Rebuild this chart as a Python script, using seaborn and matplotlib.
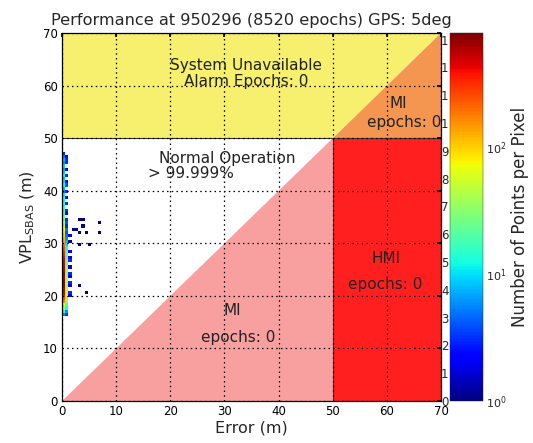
import matplotlib
matplotlib.use("Agg")
import matplotlib.pyplot as plt
from matplotlib.colors import LogNorm
from matplotlib.patches import Polygon
import numpy as np
import pandas as pd
import seaborn as sns

sns.set_theme(style="white")
plt.rcParams["font.family"] = ["DejaVu Sans"]
plt.rcParams["mathtext.fontset"] = "dejavusans"

# ---- 2-D histogram data: error bin centre (m), VPL bin centre (m), points per pixel ----
col0_vpl = [16.5, 17.1, 17.7, 18.3, 18.9, 19.5, 20.1, 20.7, 21.3, 21.9, 22.5, 23.1,
            23.7, 24.3, 24.9, 25.5, 26.1, 26.7, 27.3, 27.9, 28.5, 29.1, 29.7, 30.3,
            30.9, 31.5, 32.1, 32.7, 33.3, 33.9, 34.5, 35.1, 35.7, 36.3, 36.9, 37.5,
            38.1, 38.7, 39.3, 39.9, 40.5, 41.1, 41.7, 42.3, 42.9, 43.5, 44.1, 44.7,
            45.3, 45.9, 46.5, 47.1]
col0_counts = [6, 15, 40, 80, 160, 260, 380, 450, 520, 600, 650, 620,
               580, 640, 560, 500, 470, 430, 400, 350, 300, 240, 180, 140,
               120, 100, 90, 70, 50, 40, 30, 25, 20, 18, 16, 14,
               12, 14, 10, 5, 8, 12, 10, 8, 12, 9, 7, 9,
               6, 8, 5, 3]

col1_vpl = [16.5, 17.1, 17.7, 18.3, 18.9, 19.5, 20.1, 20.7, 21.3, 21.9, 22.5, 23.1,
            23.7, 24.3, 24.9, 25.5, 26.1, 26.7, 27.3, 27.9, 28.5, 29.1, 29.7, 30.3,
            30.9, 31.5, 32.1, 32.7, 33.3, 33.9, 34.5, 35.7, 36.3, 37.5, 38.7, 39.9,
            41.1, 41.7, 42.9, 44.1, 45.3, 45.9, 46.5]
col1_counts = [3, 6, 12, 20, 30, 45, 60, 55, 50, 40, 45, 35,
               40, 35, 30, 35, 25, 28, 20, 22, 16, 12, 10, 8,
               6, 5, 4, 5, 3, 4, 3, 2, 3, 3, 2, 3,
               4, 2, 3, 2, 3, 3, 2]

col2_vpl = [20.1, 20.7, 21.9, 22.5, 23.7, 24.3, 25.5, 26.7, 27.3, 28.5, 30.3, 31.5]
col2_counts = [2, 3, 2, 3, 2, 3, 2, 3, 2, 2, 1, 2]

tail_err = [3.3, 3.9, 6.9, 3.9, 2.1, 2.7, 3.3, 4.5, 6.9, 3.3, 5.1, 3.3, 4.5]
tail_vpl = [34.5, 34.5, 33.9, 33.3, 32.7, 32.7, 32.1, 32.1, 32.1, 29.7, 29.7, 21.9, 20.7]
tail_counts = [1, 1, 1, 1, 1, 1, 1, 1, 1, 1, 1, 1, 1]

# ---- axis / colorbar ticks and annotations ----
axis_ticks = [0, 10, 20, 30, 40, 50, 60, 70]
cbar_ticks = [1, 10, 100]
cbar_lin_labels = ["0", "1", "2", "3", "4", "5", "6", "7", "8", "9", "1", "1", "1", "1"]
alert_limit = 50
axis_max = 70

df = pd.DataFrame({
    "err": ([0.3] * len(col0_vpl) + [0.9] * len(col1_vpl) + [1.5] * len(col2_vpl)
            + tail_err),
    "vpl": col0_vpl + col1_vpl + col2_vpl + tail_vpl,
    "count": col0_counts + col1_counts + col2_counts + tail_counts,
})

jet = matplotlib.colormaps["jet"]

W, H = 533, 443
fig = plt.figure(figsize=(W / 100, H / 100), dpi=100)
fig.patch.set_facecolor("white")
ax = fig.add_axes([62 / W, 1 - 401 / H, 379 / W, 368 / H])
cax = fig.add_axes([450 / W, 1 - 401 / H, 33 / W, 368 / H], zorder=5)

# Region shading of the integrity diagram
yellow, orange, red, pink = "#F7F06E", "#F59650", "#FF1F1F", "#F8A0A0"
A, M = alert_limit, axis_max
ax.add_patch(Polygon([(0, A), (A, A), (M, M), (0, M)], fc=yellow, ec="none", zorder=1))
ax.add_patch(Polygon([(A, A), (M, A), (M, M)], fc=orange, ec="none", zorder=1))
ax.add_patch(Polygon([(A, 0), (M, 0), (M, A), (A, A)], fc=red, ec="none", zorder=1))
ax.add_patch(Polygon([(0, 0), (A, 0), (A, A)], fc=pink, ec="none", zorder=1))
ax.plot([0, M], [A, A], color="#333333", lw=0.8, zorder=1.2)
ax.plot([A, A], [0, A], color="#333333", lw=0.8, zorder=1.2)

sns.histplot(data=df, x="err", y="vpl", weights="count", binwidth=0.6,
             binrange=((0, 70), (0, 70)), cmap=jet, ax=ax, zorder=1.5)
mesh = ax.collections[-1]
mesh.set_cmap(jet)
mesh.set_norm(LogNorm(vmin=1, vmax=800))

ax.set_xlim(0, M)
ax.set_ylim(0, M)
ax.set_xticks(axis_ticks)
ax.set_yticks(axis_ticks)
ax.set_axisbelow(False)
ax.grid(True, color="black", linestyle=(0, (1.2, 2.6)), linewidth=0.9)
for s in ax.spines.values():
    s.set_color("black")
    s.set_linewidth(0.9)
    s.set_zorder(4)
ax.tick_params(direction="in", length=3, top=True, right=True, labelsize=8.5,
               pad=3, colors="black")
ax.set_xlabel("Error (m)", fontsize=11.5, labelpad=2)
ax.set_ylabel(r"VPL$_{\mathrm{SBAS}}$ (m)", fontsize=11.5, labelpad=4)
ax.set_title("Performance at 950296 (8520 epochs) GPS: 5deg", fontsize=11.6, pad=6)

txt = dict(fontsize=11, color="#222222", zorder=3, ha="center", va="center")
ax.text(34, 63.8, "System Unavailable", **txt)
ax.text(34, 60.8, "Alarm Epochs: 0", **txt)
ax.text(62.2, 56.5, "MI", **txt)
ax.text(63.2, 53.0, "epochs: 0", **txt)
ax.text(18.0, 46.2, "Normal Operation", fontsize=11, color="#222222", zorder=3,
        ha="left", va="center")
ax.text(15.9, 43.2, "> 99.999%", fontsize=11, color="#222222", zorder=3,
        ha="left", va="center")
ax.text(59.8, 27.2, "HMI", **txt)
ax.text(59.6, 22.1, "epochs: 0", **txt)
ax.text(31.5, 17.3, "MI", **txt)
ax.text(32.5, 12.0, "epochs: 0", **txt)

# Colorbar (log scale) with its leftover linear labels on the left edge
cb = fig.colorbar(mesh, cax=cax)
cb.set_ticks(cbar_ticks)
cb.set_ticklabels([r"$10^{0}$", r"$10^{1}$", r"$10^{2}$"])
cax.minorticks_off()
cax.tick_params(labelsize=8, length=0, pad=2)
cb.outline.set_linewidth(0.3)
cb.set_label("Number of Points per Pixel", fontsize=12, labelpad=3)

lin = fig.add_axes([450 / W, 1 - 401 / H, 33 / W, 368 / H], zorder=4)
lin.patch.set_visible(False)
for s in lin.spines.values():
    s.set_visible(False)
lin.set_xticks([])
lin.set_ylim(0, 368 / 27.8)
lin.set_yticks(range(len(cbar_lin_labels)))
lin.set_yticklabels(cbar_lin_labels)
lin.tick_params(axis="y", length=0, pad=1, labelsize=8.5)

fig.savefig("out.png", dpi=100)
